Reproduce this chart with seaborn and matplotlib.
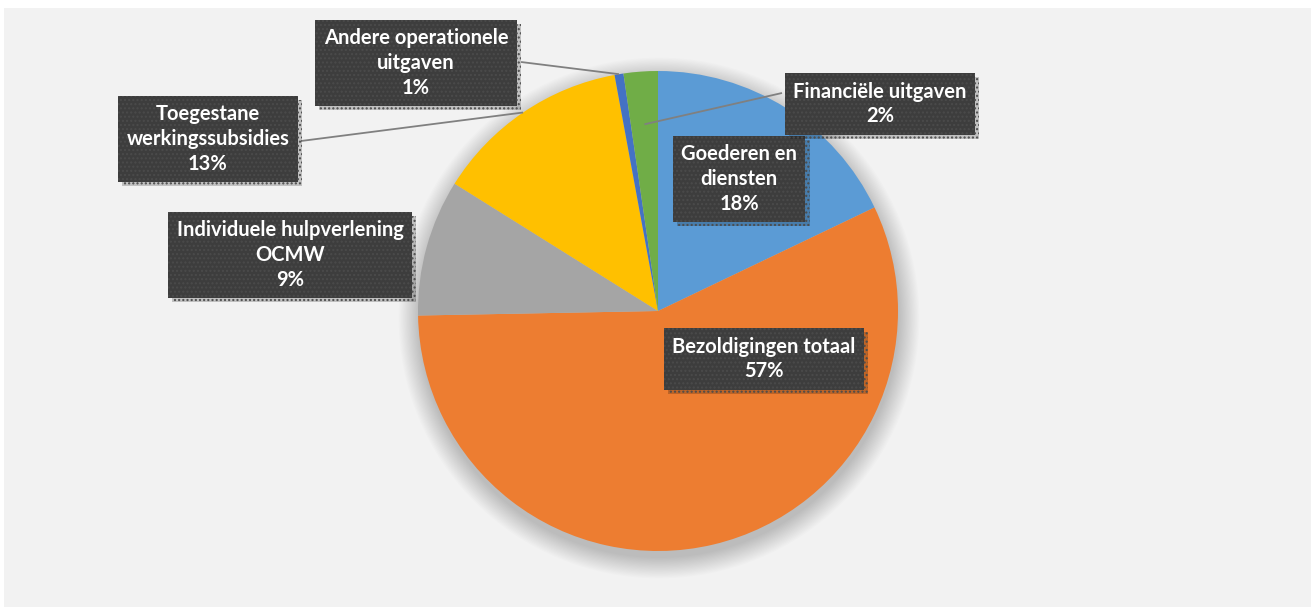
import numpy as np
import matplotlib.pyplot as plt
import matplotlib.patheffects as pe
from matplotlib.patches import Rectangle, Circle
import seaborn as sns

# Data (clockwise from 12 o'clock)
categories = ["Goederen en diensten", "Bezoldigingen totaal",
              "Individuele hulpverlening OCMW", "Toegestane werkingssubsidies",
              "Andere operationele uitgaven", "Financiële uitgaven"]
label_lines = ["Goederen en\ndiensten", "Bezoldigingen totaal",
               "Individuele hulpverlening\nOCMW", "Toegestane\nwerkingssubsidies",
               "Andere operationele\nuitgaven", "Financiële uitgaven"]
shares = [17.9, 56.8, 9.2, 13.2, 0.6, 2.3]
colors = ["#5B9BD5", "#ED7D31", "#A5A5A5", "#FFC000", "#4472C4", "#70AD47"]

# label box centres (pixels, from top-left) and which ones get leader lines
label_pos = [(739, 179), (764, 359), (290, 255), (208, 139), (416, 63), (880, 104)]
leader_from = {3: (301, 141), 4: (521, 62), 5: (782, 93)}
leader_frac = {3: 1.0, 4: 1.0, 5: 0.78}

W, H = 1311, 610
cx, cy, r = 658, 311, 240

sns.set_theme(style="white")
plt.rcParams["font.family"] = ["Lato", "DejaVu Sans"]
palette = sns.color_palette(colors)

fig = plt.figure(figsize=(W / 100, H / 100), dpi=100)
fig.patch.set_facecolor("white")
ax = fig.add_axes([0, 0, 1, 1])

# light gray chart area
ax.add_patch(Rectangle((4, 3), W - 4, H - 11, facecolor="#f2f2f2", edgecolor="none", zorder=0))

# soft shadow under the pie
for k in range(18):
    ax.add_patch(Circle((cx + 1, H - cy - 7), r + k * 1.2, facecolor="black",
                        edgecolor="none", alpha=0.01, zorder=1))

wedges, _ = ax.pie(shares, colors=palette, startangle=90, counterclock=False,
                   center=(cx, H - cy), radius=r, wedgeprops=dict(linewidth=0, zorder=2))

ax.set_xlim(0, W)
ax.set_ylim(0, H)
ax.set_aspect("equal")
ax.axis("off")

total = sum(shares)
cum = np.cumsum([0] + shares)
for i, (txt, val) in enumerate(zip(label_lines, shares)):
    pct = round(val / total * 100)
    x, y = label_pos[i]
    if i in leader_from:
        mid = (cum[i] + cum[i + 1]) / 2 / total * 2 * np.pi
        rr = r * leader_frac[i]
        ax_, ay_ = cx + rr * np.sin(mid), cy - rr * np.cos(mid)
        bx, by = leader_from[i]
        ax.plot([bx, ax_], [H - by, H - ay_], color="#808080", lw=1.3, zorder=3,
                solid_capstyle="butt")
    t = ax.text(x, H - y, f"{txt}\n{pct}%", ha="center", va="center", color="white",
                fontsize=14.5, fontweight="bold", linespacing=1.3, zorder=5,
                bbox=dict(boxstyle="square,pad=0.42", facecolor="#3d3d3d",
                          edgecolor="#4b4b4b", linewidth=0, hatch="...."))
    t.get_bbox_patch().set_path_effects([
        pe.SimplePatchShadow(offset=(3, -3), shadow_rgbFace="black", alpha=0.2),
        pe.Normal()])

fig.savefig("out.png", dpi=100)
